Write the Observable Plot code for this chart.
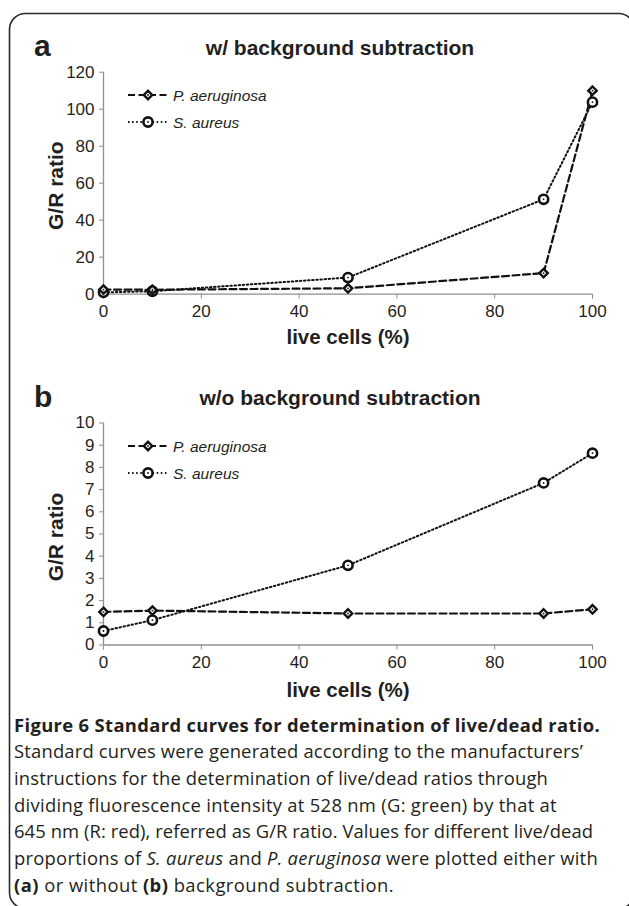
<!DOCTYPE html>
<html><head><meta charset="utf-8">
<script src="https://cdn.jsdelivr.net/npm/d3@7"></script>
<script src="https://cdn.jsdelivr.net/npm/@observablehq/plot@0.6"></script>
<style>
html,body{margin:0;padding:0;background:#fff;}
#wrap{position:relative;width:629px;height:906px;overflow:hidden;}
.abs{position:absolute;left:0;}
#cap{position:absolute;left:14px;top:0;font-family:"Open Sans",sans-serif;color:#231f20;}
#cap div{position:absolute;left:0;white-space:nowrap;}
</style></head>
<body><div id="wrap"></div>
<script>
// ---- data ----
const liveCells = [0, 10, 50, 90, 100];
const paeruginosaA = [2.5, 2.4, 3.2, 11.4, 110];
const saureusA = [1.0, 1.6, 9.0, 51.3, 103.8];
const paeruginosaB = [1.49, 1.55, 1.42, 1.42, 1.61];
const saureusB = [0.63, 1.12, 3.59, 7.30, 8.64];
const seriesNames = ["P. aeruginosa", "S. aureus"];
const xTicks = [0, 20, 40, 60, 80, 100];
const yTicksA = [0, 20, 40, 60, 80, 100, 120];
const yTicksB = [0, 1, 2, 3, 4, 5, 6, 7, 8, 9, 10];
const titles = ["w/ background subtraction", "w/o background subtraction"];
const captionLines = [
  "<b>Figure 6 Standard curves for determination of live/dead ratio.</b>",
  "Standard curves were generated according to the manufacturers’",
  "instructions for the determination of live/dead ratios through",
  "dividing fluorescence intensity at 528 nm (G: green) by that at",
  "645 nm (R: red), referred as G/R ratio. Values for different live/dead",
  "proportions of <i>S. aureus</i> and <i>P. aeruginosa</i> were plotted either with",
  "<b>(a)</b> or without <b>(b)</b> background subtraction."
];

const INK = "#231f20";
const AX = "#8f8f8f";
const wrap = document.getElementById("wrap");

function rows(a, b) {
  return liveCells.flatMap((x, i) => [
    {x, y: a[i], s: seriesNames[0]},
    {x, y: b[i], s: seriesNames[1]}
  ]);
}

const DOT = "1.5,2.6", DASH = "7,3.5";

function panel(data, yDomain, yTicks, top, height, mTop, mBottom) {
  const pa = data.filter(d => d.s === seriesNames[0]);
  const sa = data.filter(d => d.s === seriesNames[1]);
  const chart = Plot.plot({
    width: 629, height,
    marginLeft: 103, marginRight: 37, marginTop: mTop, marginBottom: mBottom,
    style: {fontFamily: "'Liberation Sans', Arial, sans-serif", background: "transparent"},
    x: {domain: [0, 100]},
    y: {domain: yDomain},
    marks: [
      Plot.ruleX([0], {y1: yDomain[0], y2: yDomain[1], stroke: AX, strokeWidth: 1.3}),
      Plot.ruleY([0], {stroke: AX, strokeWidth: 1.3}),
      Plot.axisY({ticks: yTicks, tickSize: 4, tickPadding: 5, stroke: AX, fill: INK, fontSize: 17, label: null}),
      Plot.axisX({ticks: xTicks, tickSize: 5, tickPadding: 6, stroke: AX, fill: INK, fontSize: 17, label: null}),
      Plot.line(sa, {x: "x", y: "y", stroke: "#111", strokeWidth: 2, strokeDasharray: DOT}),
      Plot.line(pa, {x: "x", y: "y", stroke: "#111", strokeWidth: 2.2, strokeDasharray: DASH}),
      Plot.dot(sa, {x: "x", y: "y", r: 4.6, stroke: "#111", strokeWidth: 2.6, fill: "white"}),
      Plot.dot(pa, {x: "x", y: "y", symbol: "diamond2", r: 3.8, stroke: "#111", strokeWidth: 2.4, fill: "white"}),
      Plot.dot(data, {x: "x", y: "y", r: 0.9, fill: "#111", stroke: null})
    ]
  });
  chart.classList.add("abs");
  chart.style.top = top + "px";
  wrap.appendChild(chart);
}

panel(rows(paeruginosaA, saureusA), [0, 120], yTicksA, 60, 260, 11.7, 26.3);
panel(rows(paeruginosaB, saureusB), [0, 10], yTicksB, 410, 270, 12.5, 35.5);

// ---- overlay: frame, titles, axis labels, legends ----
const ns = "http://www.w3.org/2000/svg";
const ov = document.createElementNS(ns, "svg");
ov.setAttribute("width", 629); ov.setAttribute("height", 906);
ov.classList.add("abs"); ov.style.top = "0px";
wrap.appendChild(ov);
function el(tag, attrs, text) {
  const e = document.createElementNS(ns, tag);
  for (const k in attrs) e.setAttribute(k, attrs[k]);
  if (text != null) e.textContent = text;
  ov.appendChild(e); return e;
}
el("rect", {x: 9.5, y: 13.5, width: 625, height: 895, rx: 16, fill: "none", stroke: "#2a2a2a", "stroke-width": 1.6});

const F = "'Liberation Sans', Arial, sans-serif";
const panelsTxt = [
  {letter: "a", title: titles[0], lBase: 56, tBase: 54.5, yMid: 182.7, xlBase: 343.5, leg: [95, 122]},
  {letter: "b", title: titles[1], lBase: 406.7, tBase: 405, yMid: 534, xlBase: 697.3, leg: [446, 473]}
];
panelsTxt.forEach(p => {
  el("text", {x: 34, y: p.lBase, "font-family": F, "font-weight": "bold", "font-size": 30, fill: INK}, p.letter);
  el("text", {x: 340, y: p.tBase, "text-anchor": "middle", "font-family": F, "font-weight": "bold", "font-size": 21, fill: INK}, p.title);
  el("text", {transform: `translate(63,${p.yMid + 3}) rotate(-90)`, "text-anchor": "middle", "font-family": F, "font-weight": "bold", "font-size": 21, fill: INK}, "G/R ratio");
  el("text", {x: 348, y: p.xlBase, "text-anchor": "middle", "font-family": F, "font-weight": "bold", "font-size": 20.5, fill: INK}, "live cells (%)");
  // legend
  const [y1, y2] = p.leg;
  el("line", {x1: 128, x2: 168, y1: y1, y2: y1, stroke: "#111", "stroke-width": 2.2, "stroke-dasharray": DASH});
  el("path", {d: `M148,${y1 - 4.2}L152.2,${y1}L148,${y1 + 4.2}L143.8,${y1}Z`, fill: "white", stroke: "#111", "stroke-width": 2.4});
  el("circle", {cx: 148, cy: y1, r: 0.9, fill: "#111"});
  el("text", {x: 173, y: y1 + 5.5, "font-family": F, "font-style": "italic", "font-size": 15.5, fill: INK}, seriesNames[0]);
  el("line", {x1: 128, x2: 168, y1: y2, y2: y2, stroke: "#111", "stroke-width": 2, "stroke-dasharray": DOT});
  el("circle", {cx: 148, cy: y2, r: 4.6, fill: "white", stroke: "#111", "stroke-width": 2.6});
  el("circle", {cx: 148, cy: y2, r: 0.9, fill: "#111"});
  el("text", {x: 173, y: y2 + 5.5, "font-family": F, "font-style": "italic", "font-size": 15.5, fill: INK}, seriesNames[1]);
});

// ---- caption ----
const cap = document.createElement("div");
cap.id = "cap";
wrap.appendChild(cap);
const capBase0 = 733.3, capStep = 26.7;
const capEnds = [600, 583, 548, 557, 593, 598, 394];
const capSize = 18.4;
captionLines.forEach((t, i) => {
  const d = document.createElement("div");
  d.innerHTML = t;
  d.style.fontSize = capSize + "px";
  d.style.lineHeight = "1";
  d.style.top = (capBase0 + capStep * i - capSize * 0.96) + "px";
  cap.appendChild(d);
  const w = d.getBoundingClientRect().width;
  const target = capEnds[i] - 14;
  const n = d.textContent.length;
  d.style.letterSpacing = ((target - w) / n).toFixed(3) + "px";
});
</script></body></html>
